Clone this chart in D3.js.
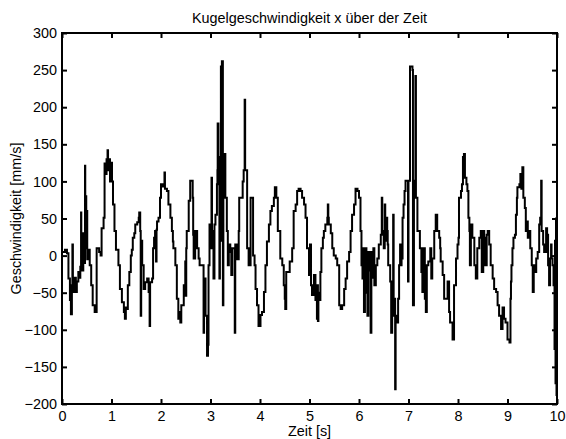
<!DOCTYPE html>
<html>
<head>
<meta charset="utf-8">
<script src="https://cdn.jsdelivr.net/npm/d3@7"></script>
<style>
  html, body { margin: 0; padding: 0; background: #fff; }
  svg { display: block; }
  text { font-family: "Liberation Sans", Arial, Helvetica, sans-serif; fill: #000; }
</style>
</head>
<body>
<svg id="chart" width="566" height="439"></svg>
<script>
// Zeitpunkte [s] und gemessene Kugelgeschwindigkeit x [mm/s] (Halteglied: Wert gilt bis zum nächsten Zeitpunkt)
const zeit = [
  0.00, 0.06, 0.10, 0.13, 0.16, 0.18, 0.20, 0.21, 0.22, 0.24, 0.26, 0.28, 0.30, 0.33, 0.35, 0.37, 0.385, 0.39, 0.41, 0.43,
  0.45, 0.465, 0.47, 0.48, 0.49, 0.50, 0.51, 0.53, 0.56, 0.59, 0.62, 0.66, 0.70, 0.75, 0.78, 0.80, 0.84, 0.86, 0.88, 0.90,
  0.92, 0.93, 0.95, 0.97, 0.99, 1.01, 1.03, 1.06, 1.09, 1.14, 1.17, 1.21, 1.25, 1.27, 1.29, 1.31, 1.33, 1.36, 1.39, 1.41,
  1.43, 1.46, 1.48, 1.52, 1.55, 1.56, 1.58, 1.59, 1.60, 1.62, 1.65, 1.68, 1.72, 1.75, 1.77, 1.78, 1.82, 1.84, 1.86, 1.88,
  1.90, 1.91, 1.92, 1.95, 1.98, 2.00, 2.03, 2.07, 2.08, 2.12, 2.15, 2.19, 2.22, 2.24, 2.25, 2.29, 2.32, 2.35, 2.36, 2.39,
  2.41, 2.46, 2.49, 2.50, 2.51, 2.52, 2.56, 2.59, 2.64, 2.65, 2.66, 2.69, 2.73, 2.76, 2.78, 2.86, 2.87, 2.88, 2.90, 2.93,
  2.95, 2.96, 2.98, 3.00, 3.02, 3.03, 3.06, 3.08, 3.10, 3.13, 3.14, 3.145, 3.16, 3.18, 3.19, 3.21, 3.22, 3.23, 3.25, 3.26,
  3.30, 3.33, 3.35, 3.37, 3.40, 3.42, 3.44, 3.49, 3.50, 3.54, 3.57, 3.58, 3.65, 3.67, 3.69, 3.70, 3.74, 3.77, 3.81, 3.86,
  3.89, 3.91, 3.94, 3.97, 4.01, 4.04, 4.08, 4.11, 4.14, 4.18, 4.21, 4.24, 4.28, 4.30, 4.33, 4.36, 4.41, 4.45, 4.48, 4.50,
  4.51, 4.53, 4.60, 4.65, 4.68, 4.72, 4.75, 4.78, 4.82, 4.85, 4.89, 4.92, 4.95, 4.99, 5.01, 5.03, 5.05, 5.09, 5.12, 5.15,
  5.16, 5.17, 5.18, 5.20, 5.22, 5.24, 5.27, 5.29, 5.32, 5.36, 5.37, 5.38, 5.39, 5.43, 5.46, 5.49, 5.53, 5.56, 5.60, 5.63,
  5.66, 5.70, 5.73, 5.76, 5.80, 5.83, 5.86, 5.90, 5.93, 5.97, 6.00, 6.03, 6.05, 6.07, 6.09, 6.10, 6.12, 6.13, 6.15, 6.17,
  6.19, 6.22, 6.235, 6.25, 6.27, 6.29, 6.31, 6.34, 6.37, 6.40, 6.44, 6.46, 6.47, 6.50, 6.52, 6.53, 6.55, 6.57, 6.58, 6.59,
  6.63, 6.65, 6.67, 6.69, 6.70, 6.73, 6.74, 6.76, 6.79, 6.81, 6.83, 6.84, 6.86, 6.88, 6.90, 6.92, 6.94, 6.99, 7.00, 7.03,
  7.08, 7.09, 7.11, 7.14, 7.15, 7.18, 7.23, 7.26, 7.28, 7.30, 7.33, 7.35, 7.37, 7.40, 7.44, 7.46, 7.48, 7.52, 7.55, 7.58,
  7.62, 7.64, 7.65, 7.69, 7.72, 7.79, 7.82, 7.84, 7.89, 7.92, 7.96, 7.99, 8.01, 8.02, 8.06, 8.08, 8.10, 8.12, 8.14, 8.17,
  8.19, 8.21, 8.23, 8.24, 8.26, 8.29, 8.33, 8.36, 8.39, 8.43, 8.46, 8.48, 8.51, 8.53, 8.55, 8.58, 8.60, 8.63, 8.66, 8.70,
  8.73, 8.77, 8.80, 8.83, 8.87, 8.90, 8.93, 8.96, 9.00, 9.04, 9.06, 9.07, 9.08, 9.10, 9.12, 9.15, 9.17, 9.19, 9.20, 9.24,
  9.26, 9.28, 9.30, 9.32, 9.35, 9.37, 9.39, 9.41, 9.44, 9.46, 9.49, 9.51, 9.53, 9.54, 9.58, 9.61, 9.64, 9.66, 9.68, 9.69,
  9.72, 9.74, 9.78, 9.80, 9.82, 9.84, 9.86, 9.88, 9.89, 9.91, 9.93, 9.95, 9.96, 9.97, 9.98, 9.99, 10.00
];
const geschwindigkeit = [
  5, 8, 3, -31, -60, -79, -40, 15, -45, -49, -30, -49, -35, -22, -30, -15, 58, 10, -20, 30,
  -10, 121, 40, 80, 10, 60, -5, 8, -13, -40, -67, -76, 10, 5, 0, 37, 51, 124, 110, 130,
  142, 115, 130, 100, 125, 100, 69, 33, 8, -13, -45, -63, -76, -85, -70, -72, -40, -22, 0, 8,
  24, 30, 42, 45, 51, 58, 33, -81, 20, -13, -45, -36, -31, -49, -95, -36, -31, 10, 24, 33,
  -8, 35, 46, 51, 78, 96, 93, 112, 90, 87, 69, 51, 33, 19, 10, -13, -58, -85, -76, -90,
  -67, -40, -8, -54, 10, 33, 74, 101, 78, 28, -4, 33, 10, -4, -13, -104, -40, -31, -81, -135,
  -120, -13, 42, 10, 105, 33, -31, 42, 55, 96, 115, 178, 133, -31, 133, 255, 20, 262, -67, 137,
  78, 33, -13, 15, 5, -26, 10, -104, 15, -5, 33, 78, 100, 115, 210, 115, 10, -13, 78, 0,
  -13, -45, -67, -95, -80, -76, -49, -13, 19, 42, 60, 67, 78, 92, 78, 33, -4, -13, -40, -58,
  -72, -22, -8, 10, 60, 69, 87, 90, 87, 78, 69, 51, 10, -26, 15, -40, -53, -26, -60, -85,
  -40, -88, -50, -60, -22, 10, 24, 33, 42, 51, 69, 51, 42, 30, 10, 0, -4, -13, -67, -72,
  -67, -45, -31, -8, 5, 33, 55, 69, 90, 87, 78, 33, -13, -31, 10, -76, -20, 10, -50, -81,
  5, -20, -104, 5, -30, 10, -40, -13, -4, 15, 28, 78, 33, 10, 69, 20, 51, 33, 15, -13,
  -35, -104, -81, 55, -58, -180, -81, -90, -58, -13, 15, -13, -4, 51, 69, 87, 101, -35, 101, 255,
  250, -67, 101, 242, 78, 33, 10, -22, -49, 10, -58, -76, -13, -8, 10, -31, -4, 33, 55, 33,
  24, 10, -8, -26, -58, -35, -76, -90, -113, -40, -4, 15, 24, 78, 87, 96, 133, 137, 105, 96,
  87, 51, 33, -13, 42, 24, -13, -31, 10, 24, 33, -22, 33, 24, -13, 28, 33, 15, -13, -31,
  -45, -49, -67, -81, -99, -70, -85, -90, -113, -117, -58, -35, -13, 10, 24, 28, 55, 78, 92, 96,
  110, 90, 119, 78, 64, 33, 46, 24, 33, 10, -13, -49, -13, -22, -4, 5, 42, 51, 101, 33,
  15, 5, 37, 28, -13, -40, -4, 15, -4, -13, -40, -126, 20, -172, 50, -188, -185
];
const xTicks = [0, 1, 2, 3, 4, 5, 6, 7, 8, 9, 10];
const yTicks = [-200, -150, -100, -50, 0, 50, 100, 150, 200, 250, 300];
const titel = "Kugelgeschwindigkeit x über der Zeit";
const xTitel = "Zeit [s]";
const yTitel = "Geschwindigkeit [mm/s]";

const punkte = zeit.map((t, i) => ({ t, v: geschwindigkeit[i] }));

const svg = d3.select("#chart");
const box = { left: 62, right: 557, top: 33, bottom: 404 };
const fontPx = 14.4;

const x = d3.scaleLinear().domain([0, 10]).range([box.left, box.right]);
const y = d3.scaleLinear().domain([-200, 300]).range([box.bottom, box.top]);

// Messkurve
const linie = d3.line()
  .x(d => x(d.t))
  .y(d => y(d.v))
  .curve(d3.curveStepAfter);

svg.append("path")
  .datum(punkte)
  .attr("d", linie)
  .attr("fill", "none")
  .attr("stroke", "#000")
  .attr("stroke-width", 2)
  .attr("stroke-linejoin", "miter");

// Achsen mit nach innen zeigenden Strichen auf allen vier Seiten
function styleAxis(g, showLabels) {
  g.select(".domain").remove();
  g.selectAll(".tick line").attr("stroke", "#000").attr("stroke-width", 2);
  g.selectAll(".tick text")
    .style("font-size", fontPx + "px")
    .style("font-family", '"Liberation Sans", Arial, sans-serif')
    .attr("fill", "#000");
  if (!showLabels) g.selectAll(".tick text").remove();
}

svg.append("g")
  .attr("transform", `translate(0,${box.bottom})`)
  .call(d3.axisBottom(x).tickValues(xTicks).tickFormat(d3.format("d")).tickSize(-5).tickPadding(7))
  .call(g => styleAxis(g, true));

svg.append("g")
  .attr("transform", `translate(0,${box.top})`)
  .call(d3.axisTop(x).tickValues(xTicks).tickSize(-5))
  .call(g => styleAxis(g, false));

svg.append("g")
  .attr("transform", `translate(${box.left},0)`)
  .call(d3.axisLeft(y).tickValues(yTicks).tickFormat(d3.format("d")).tickSize(-5).tickPadding(5))
  .call(g => styleAxis(g, true));

svg.append("g")
  .attr("transform", `translate(${box.right},0)`)
  .call(d3.axisRight(y).tickValues(yTicks).tickSize(-5))
  .call(g => styleAxis(g, false));

// Rahmen
svg.append("rect")
  .attr("x", box.left)
  .attr("y", box.top)
  .attr("width", box.right - box.left)
  .attr("height", box.bottom - box.top)
  .attr("fill", "none")
  .attr("stroke", "#000")
  .attr("stroke-width", 2);

// Beschriftungen
svg.append("text")
  .attr("x", (box.left + box.right) / 2)
  .attr("y", 23)
  .attr("text-anchor", "middle")
  .style("font-size", fontPx + "px")
  .text(titel);

svg.append("text")
  .attr("x", (box.left + box.right) / 2)
  .attr("y", 436)
  .attr("text-anchor", "middle")
  .style("font-size", fontPx + "px")
  .text(xTitel);

svg.append("text")
  .attr("transform", `translate(21,${(box.top + box.bottom) / 2}) rotate(-90)`)
  .attr("text-anchor", "middle")
  .style("font-size", fontPx + "px")
  .text(yTitel);
</script>
</body>
</html>
